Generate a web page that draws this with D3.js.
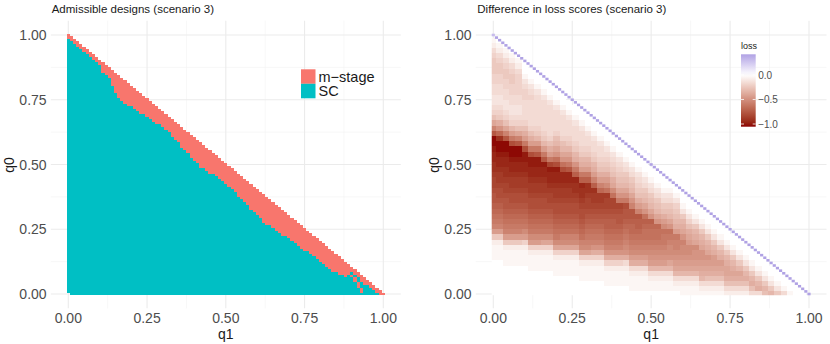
<!DOCTYPE html>
<html><head><meta charset="utf-8">
<script src="https://cdn.jsdelivr.net/npm/d3@7"></script>
<style>
body{margin:0;background:#fff}
svg{display:block}
text{font-family:"Liberation Sans",Arial,Helvetica,sans-serif}
</style>
</head><body>
<svg id="c" width="830" height="344"></svg>
<script>
// ---------------- data ----------------
const axisTicks = [0, 0.25, 0.5, 0.75, 1];
const axisTickLabels = ["0.00", "0.25", "0.50", "0.75", "1.00"];
const minorTicks = [0.125, 0.375, 0.625, 0.875];

// Left panel: admissible designs on a 0.01 grid of (q1, q0), q0 + q1 <= 1
const designLevels = ["m−stage", "SC"];
const designColors = ["#F8766D", "#00BFC4"];
const leftStep = 0.01;
// highest q0 index (x0.01) that is SC in each q1 column (q1 = i/100); above it up to the diagonal: m-stage
const scTop = [
  98,97,96,95,94,93,92,91,90,89,88,
  85,84,83,80,77,75,74,73,72,72,
  71,70,69,69,68,67,66,65,65,64,
  63,62,60,59,58,56,55,54,52,51,
  50,48,48,47,46,46,45,44,43,42,
  41,40,39,37,36,35,34,32,31,30,
  29,27,26,26,25,24,23,22,22,21,
  20,19,18,17,16,16,15,14,13,12,
  11,10,9,8,8,7,7,6,7,6,
  4,2,0,3,3,2,1,0,-1,-1
];
// isolated SC cells inside the m-stage band [q1 index, q0 index]
const extraSC = [[90,8],[91,7],[92,5],[92,6],[93,3],[93,4]];
const missingCells = [[0,0]];

// Right panel: difference in loss, 0.02 grid; each string is one q1 column (q1 = 0.02*i),
// characters from q0 = 0 upward, base-36 level, loss = level * lossUnit
const rightStep = 0.02;
const lossUnit = -0.04;
const lossColumns = [
  "000000011126befghijjkllmnnoopqqjea7543344556665421",
  "000000011126befghijkklmmnoopqqnhc9654334455665421",
  "00000011126befghijjkllmnnoopqqjea754334455665421",
  "00000011126befghijkklmmnoopqqkfb854334455665421",
  "00000011126befghijkklmmnoopqqjea75433445555421",
  "00000011125bdfghijkklmmnooppkfb97544445543100",
  "0000011125bdfghijkklmmnooppkfb97544444543100",
  "0000011125bdfghijkklmmnooppjfb8654444443100",
  "0000011125adfghijkklmmnoopjfb8654444443100",
  "0000011125adfghijkllmnooplfb9754444443100",
  "000011125adfghijkklmmnoopkgca87544443100",
  "000011125adeghijkklmmnookgca87544443100",
  "000011125adeghijkklmmnoojfca8654443100",
  "000011125adeghijkklmnnoifc98654443100",
  "00011125adeghijkklmnnoifb98654443100",
  "00011125adefghijkllmnnifb9865443100",
  "000111259cefghijklmmnieb9865443100",
  "000111259cefghijklmmheb9765443100",
  "00111259cefghiijkllmgdb976543100",
  "00111259cefghiijkllgda976543100",
  "00111259cefghijjklfca876543100",
  "00111249cdefghijjkfca87643100",
  "0111249bdefghhijjeca87643100",
  "0111249bdefghiijeb976543100",
  "0111249bdefgghigca87643100",
  "011248bcdefgghica87643100",
  "011248bcdefgghca87643100",
  "011248bcdeffgdb97643100",
  "011248acddefgca8764310",
  "01248abcdeefb98765310",
  "11248abcddeca9863100",
  "11248abcddba9753100",
  "11248abccda9863100",
  "12489abcca9863100",
  "12479abca9863100",
  "12479abb9863100",
  "12479ab9863100",
  "2479aa9863100",
  "2479a9863100",
  "2479a863100",
  "2479863100",
  "479863100",
  "49863100",
  "7863100",
  "863100",
  "63100",
  "4100",
  "100",
  "00",
  "0"
];
// loss on the diagonal q0 + q1 = 1 (0.01 grid, q1 = k/100)
const diagLoss = [
  0.30,0.42,0.42,0.42,0.42,0.42,0.42,0.42,0.42,0.42,
  0.42,0.42,0.42,0.42,0.42,0.42,0.42,0.42,0.42,0.42,
  0.42,0.42,0.42,0.42,0.42,0.42,0.42,0.42,0.42,0.42,
  0.42,0.42,0.42,0.42,0.42,0.42,0.42,0.42,0.42,0.42,
  0.42,0.42,0.42,0.42,0.42,0.42,0.42,0.42,0.42,0.42,
  0.42,0.42,0.42,0.42,0.42,0.42,0.42,0.42,0.42,0.42,
  0.42,0.42,0.42,0.42,0.42,0.42,0.42,0.42,0.42,0.42,
  0.42,0.42,0.42,0.42,0.42,0.42,0.42,0.42,0.42,0.42,
  0.42,0.42,0.42,0.42,0.42,0.42,0.42,0.42,0.42,0.42,
  0.42,0.42,0.42,0.42,0.42,0.42,0.42,0.42,0.42,0.42,
  0.42
];
const lossLimits = [-1.055, 0.42];
const lossBreaks = [0, -0.5, -1.0];
const lossBreakLabels = ["0.0", "−0.5", "−1.0"];

// ---------------- drawing ----------------
const svg = d3.select("#c");
const TXT = "#4D4D4D", DARK = "#1A1A1A";
const expand = 0.0555;

function panel(cfg) {
  const g = svg.append("g");
  const xs = d3.scaleLinear().domain([0, 1]).range(cfg.xr);
  const ys = d3.scaleLinear().domain([0, 1]).range([294, 35]);
  const px0 = xs(-expand), px1 = xs(1 + expand), py0 = ys(1 + expand), py1 = ys(-expand);
  const grid = g.append("g");
  grid.selectAll(".mv").data(minorTicks).join("line")
    .attr("x1", d => xs(d)).attr("x2", d => xs(d)).attr("y1", py0).attr("y2", py1)
    .attr("stroke", "#F1F1F1").attr("stroke-width", 0.6);
  grid.selectAll(".mh").data(minorTicks).join("line")
    .attr("y1", d => ys(d)).attr("y2", d => ys(d)).attr("x1", px0).attr("x2", px1)
    .attr("stroke", "#F1F1F1").attr("stroke-width", 0.6);
  grid.selectAll(".Mv").data(axisTicks).join("line")
    .attr("x1", d => xs(d)).attr("x2", d => xs(d)).attr("y1", py0).attr("y2", py1)
    .attr("stroke", "#EBEBEB").attr("stroke-width", 1.1);
  grid.selectAll(".Mh").data(axisTicks).join("line")
    .attr("y1", d => ys(d)).attr("y2", d => ys(d)).attr("x1", px0).attr("x2", px1)
    .attr("stroke", "#EBEBEB").attr("stroke-width", 1.1);

  g.selectAll(".xl").data(axisTicks).join("text")
    .attr("x", d => xs(d)).attr("y", 322.5).attr("text-anchor", "middle")
    .attr("font-size", 14).attr("fill", TXT).text((d, i) => axisTickLabels[i]);
  g.selectAll(".yl").data(axisTicks).join("text")
    .attr("x", cfg.yLabX).attr("y", d => ys(d)).attr("dy", "0.36em").attr("text-anchor", "end")
    .attr("font-size", 14).attr("fill", TXT).text((d, i) => axisTickLabels[i]);
  g.append("text").attr("x", (px0 + px1) / 2).attr("y", 338.5).attr("text-anchor", "middle")
    .attr("font-size", 14).attr("fill", DARK).text("q1");
  g.append("text").attr("transform", `translate(${cfg.yTitleX},165) rotate(-90)`)
    .attr("text-anchor", "middle").attr("font-size", 14).attr("fill", DARK).text("q0");
  g.append("text").attr("x", cfg.titleX).attr("y", 13).attr("font-size", 11.5)
    .attr("fill", DARK).text(cfg.title);
  return { g, xs, ys };
}

// ----- left panel -----
const L = panel({ xr: [68.3, 383.3], yLabX: 46.6, yTitleX: 14, titleX: 51.7,
                  title: "Admissible designs (scenario 3)" });
const extraSet = new Set(extraSC.map(d => d[0] + "_" + d[1]));
const missSet = new Set(missingCells.map(d => d[0] + "_" + d[1]));
const leftCells = [];
scTop.forEach((top, i) => {
  for (let j = 0; j <= 100 - i; j++) {
    if (missSet.has(i + "_" + j)) continue;
    const sc = j <= top || extraSet.has(i + "_" + j);
    leftCells.push({ i, j, cat: sc ? "SC" : "m−stage" });
  }
});
const leftColor = d3.scaleOrdinal().domain(designLevels).range(designColors);
const lxE = k => L.xs((k - 0.5) * leftStep);
const lyE = k => L.ys((k - 0.5) * leftStep);
L.g.append("g").attr("shape-rendering", "crispEdges")
  .selectAll("rect").data(leftCells).join("rect")
  .attr("x", d => lxE(d.i)).attr("width", d => lxE(d.i + 1) - lxE(d.i))
  .attr("y", d => lyE(d.j + 1)).attr("height", d => lyE(d.j) - lyE(d.j + 1))
  .attr("fill", d => leftColor(d.cat));

// legend (left)
const legL = L.g.append("g");
designLevels.forEach((lv, k) => {
  legL.append("rect").attr("x", 301).attr("y", 69.3 + k * 14.5).attr("width", 14.5).attr("height", 14.5)
    .attr("fill", leftColor(lv));
  legL.append("text").attr("x", 318.5).attr("y", 76.5 + k * 14.5).attr("dy", "0.36em")
    .attr("font-size", 14.5).attr("fill", DARK).text(lv);
});

// ----- right panel -----
const R = panel({ xr: [493.3, 809], yLabX: 471.6, yTitleX: 439, titleX: 477.3,
                  title: "Difference in loss scores (scenario 3)" });
const lossColor = d3.scaleLinear().domain([lossLimits[0], 0, lossLimits[1]])
  .range(["#8B0000", "#FFFFFF", "#B0A2E4"]).interpolate(d3.interpolateLab).clamp(true);
const rightCells = [];
lossColumns.forEach((col, i) => {
  for (let j = 0; j < col.length; j++) {
    rightCells.push({ i, j, loss: parseInt(col[j], 36) * lossUnit });
  }
});
const rxE = k => R.xs((k - 0.5) * rightStep);
const ryE = k => R.ys((k - 0.5) * rightStep);
const defs = svg.append("defs");
defs.append("clipPath").attr("id", "rclip").append("rect")
  .attr("x", R.xs(-0.005)).attr("y", R.ys(1.005))
  .attr("width", R.xs(1.005) - R.xs(-0.005)).attr("height", R.ys(-0.005) - R.ys(1.005));
R.g.append("g").attr("clip-path", "url(#rclip)").attr("shape-rendering", "crispEdges")
  .selectAll("rect").data(rightCells).join("rect")
  .attr("x", d => rxE(d.i)).attr("width", d => rxE(d.i + 1) - rxE(d.i))
  .attr("y", d => ryE(d.j + 1)).attr("height", d => ryE(d.j) - ryE(d.j + 1))
  .attr("fill", d => lossColor(d.loss));
// diagonal cells (0.01 grid)
const dxE = k => R.xs((k - 0.5) * leftStep);
const dyE = k => R.ys((k - 0.5) * leftStep);
R.g.append("g")
  .selectAll("rect").data(diagLoss.map((v, k) => ({ k, v }))).join("rect")
  .attr("x", d => dxE(d.k)).attr("width", d => dxE(d.k + 1) - dxE(d.k))
  .attr("y", d => dyE(100 - d.k + 1)).attr("height", d => dyE(100 - d.k) - dyE(100 - d.k + 1))
  .attr("fill", d => lossColor(d.v));

// colourbar legend
const cbX = 741, cbY = 54.3, cbW = 14.7, cbH = 72.4;
const cbScale = d3.scaleLinear().domain([lossLimits[1], lossLimits[0]]).range([cbY, cbY + cbH]);
const grad = defs.append("linearGradient").attr("id", "cbgrad")
  .attr("x1", 0).attr("y1", 0).attr("x2", 0).attr("y2", 1);
d3.range(0, 1.0001, 0.05).forEach(t => {
  const v = lossLimits[1] + t * (lossLimits[0] - lossLimits[1]);
  grad.append("stop").attr("offset", t).attr("stop-color", lossColor(v));
});
const legR = R.g.append("g");
legR.append("text").attr("x", cbX).attr("y", 49).attr("font-size", 9).attr("fill", DARK).text("loss");
legR.append("rect").attr("x", cbX).attr("y", cbY).attr("width", cbW).attr("height", cbH)
  .attr("fill", "url(#cbgrad)");
lossBreaks.forEach((b, k) => {
  const y = cbScale(b);
  legR.append("line").attr("x1", cbX).attr("x2", cbX + 3).attr("y1", y).attr("y2", y)
    .attr("stroke", "#fff").attr("stroke-width", 0.8);
  legR.append("line").attr("x1", cbX + cbW - 3).attr("x2", cbX + cbW).attr("y1", y).attr("y2", y)
    .attr("stroke", "#fff").attr("stroke-width", 0.8);
  legR.append("text").attr("x", cbX + cbW + 2.5).attr("y", y).attr("dy", "0.36em")
    .attr("font-size", 10).attr("fill", TXT).text(lossBreakLabels[k]);
});
</script>
</body></html>
